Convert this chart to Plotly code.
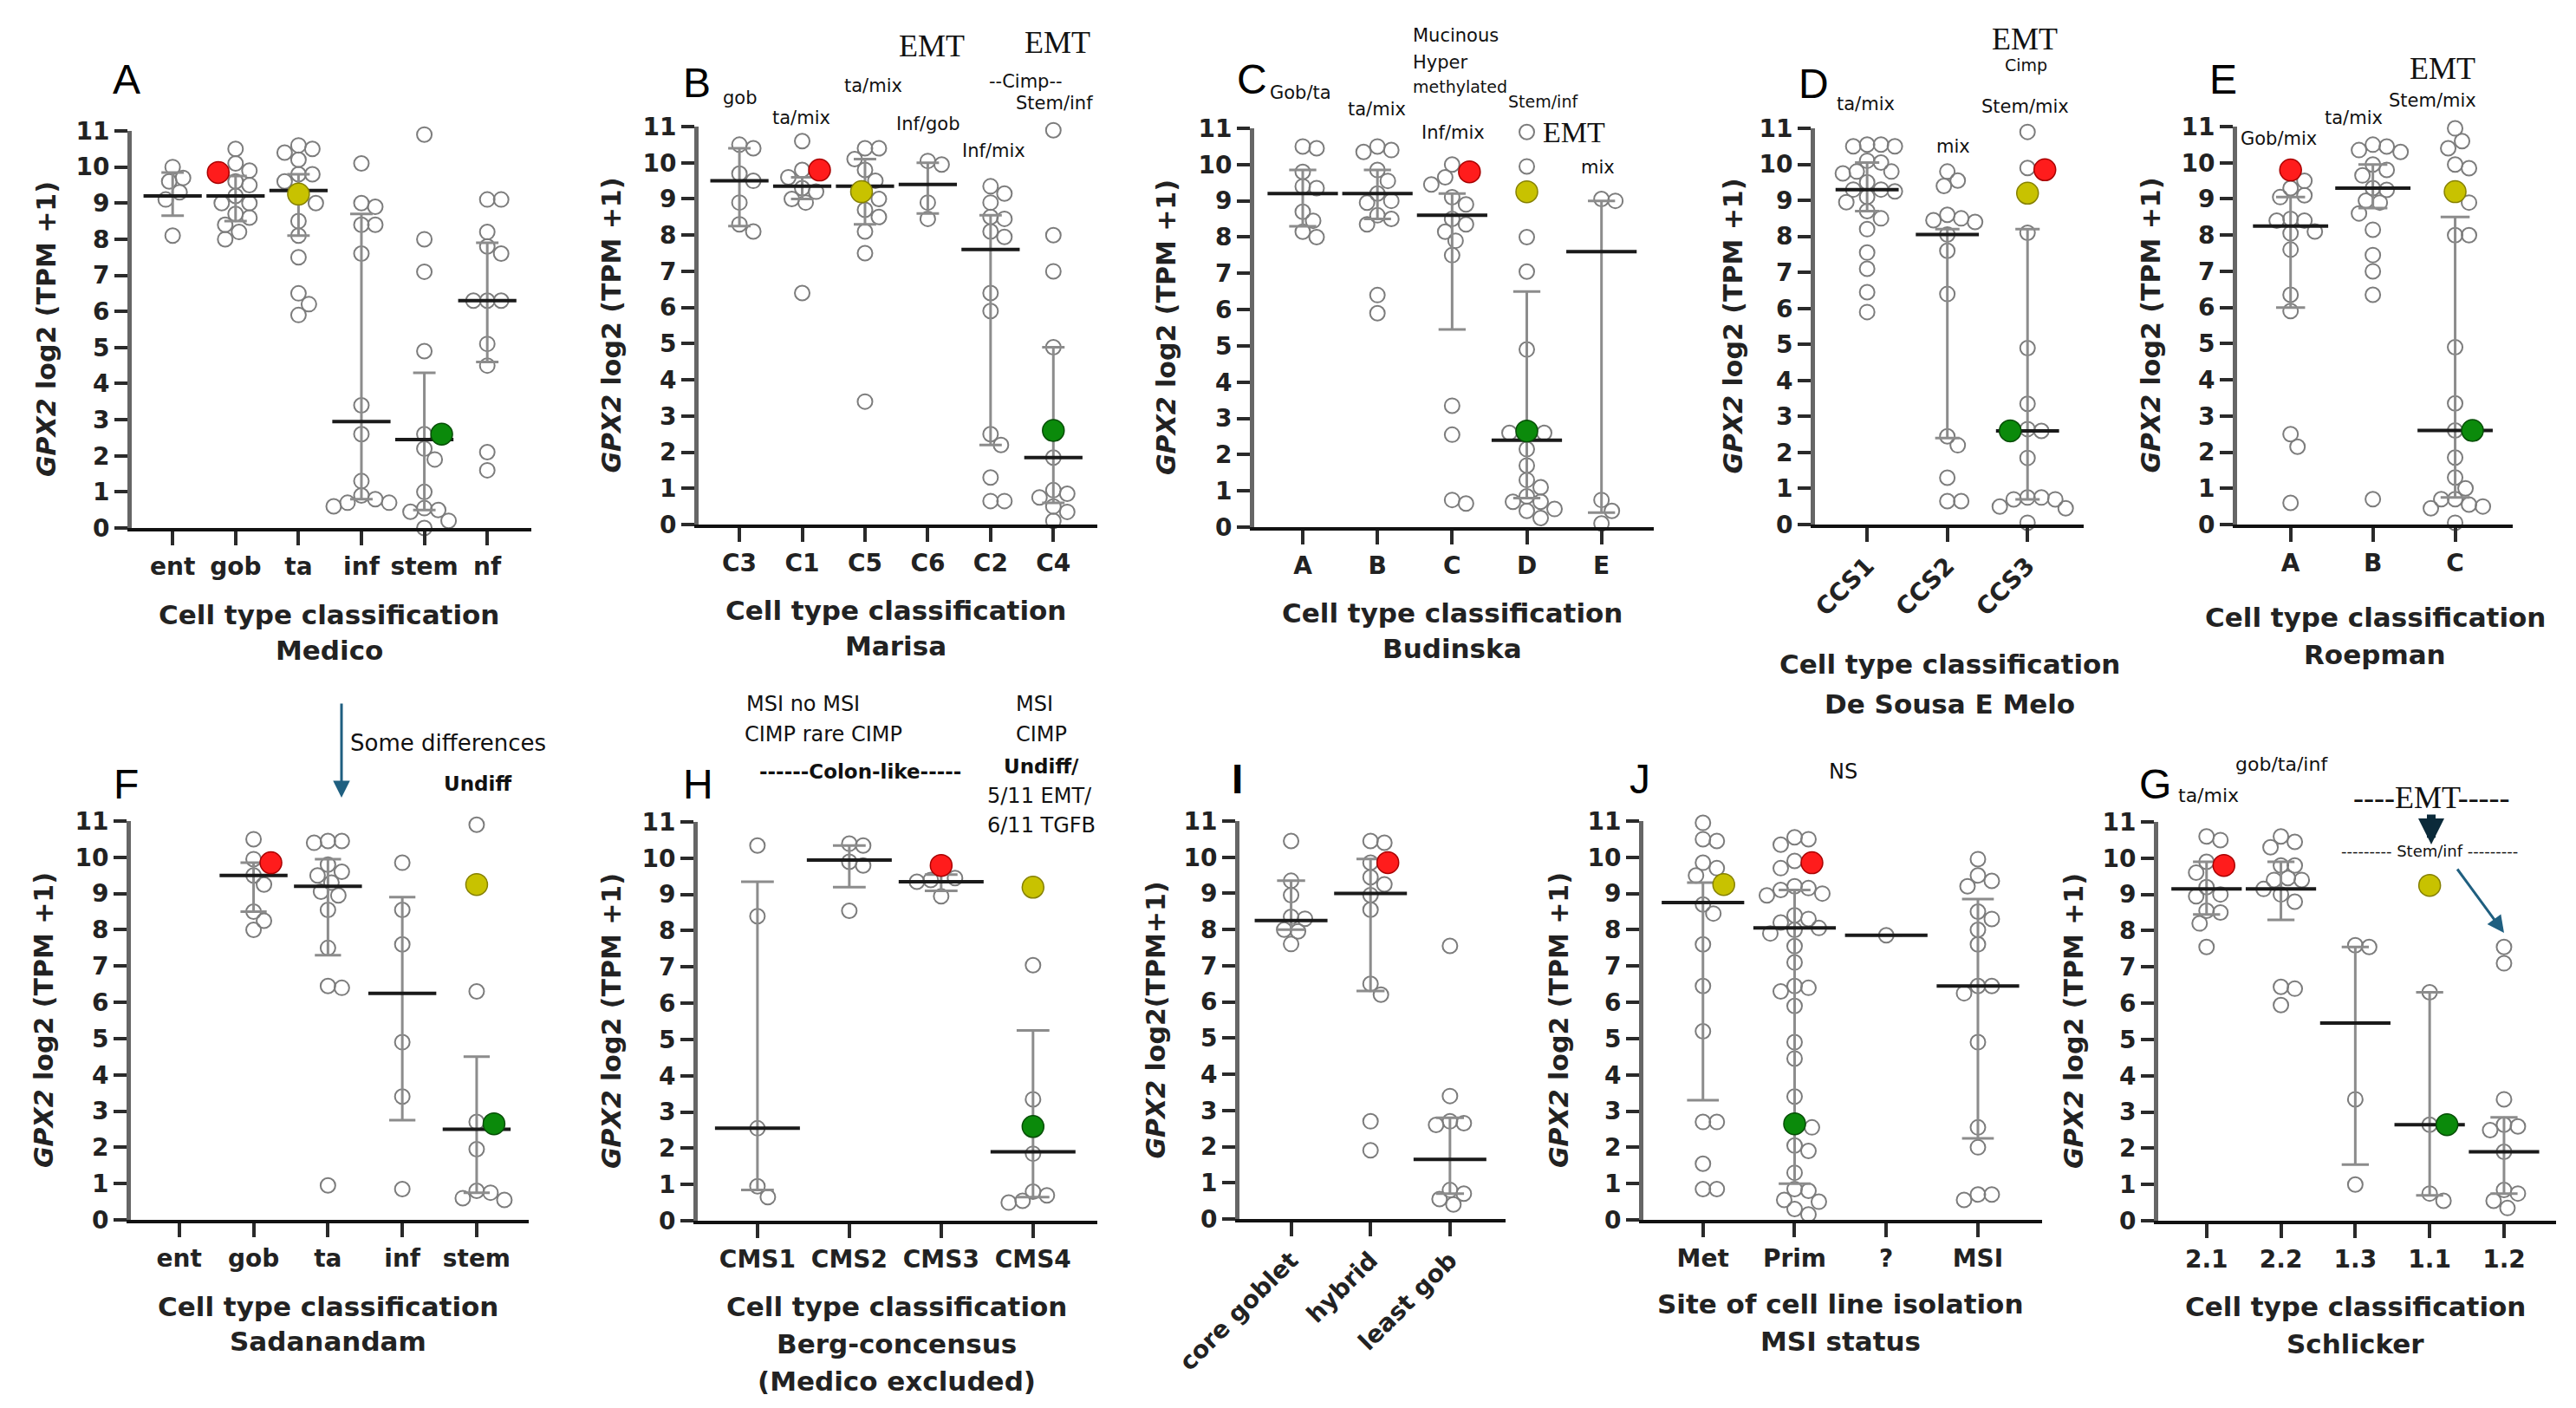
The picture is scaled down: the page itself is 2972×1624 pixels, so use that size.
import plotly.graph_objects as go

# GPX2 log2 (TPM +1) values per group
A_cats = ["ent", "gob", "ta", "inf", "stem", "nf"]
A_vals = [[10.0, 9.7, 9.6, 9.3, 9.1, 8.1],
          [10.5, 10.1, 9.9, 9.6, 9.5, 9.2, 9.0, 9.0, 8.7, 8.6, 8.4, 8.2, 8.0],
          [10.6, 10.5, 10.4, 10.2, 9.8, 9.8, 9.6, 9.0, 8.5, 8.1, 7.5, 6.5, 6.2, 5.9],
          [10.1, 9.0, 8.9, 8.4, 8.4, 7.6, 3.4, 2.6, 1.3, 0.9, 0.8, 0.7, 0.7, 0.6],
          [10.9, 8.0, 7.1, 4.9, 2.6, 2.2, 1.9, 1.0, 0.55, 0.5, 0.45, 0.2, 0.0],
          [9.1, 9.1, 8.2, 7.8, 7.6, 6.3, 6.3, 6.3, 5.1, 4.5, 2.1, 1.6]]
A_med = [9.2, 9.2, 9.35, 2.95, 2.45, 6.3]
A_q1 = [8.65, 8.5, 8.1, 0.8, 0.5, 4.6]
A_q3 = [9.85, 9.75, 9.8, 8.7, 4.3, 7.9]
A_hi = [("gob", 9.85, "red"), ("ta", 9.25, "yellow"), ("stem", 2.6, "green")]

B_cats = ["C3", "C1", "C5", "C6", "C2", "C4"]
B_vals = [[10.5, 10.4, 9.7, 9.5, 8.9, 8.3, 8.1],
          [10.6, 9.8, 9.6, 9.3, 9.2, 9.0, 8.9, 6.4],
          [10.4, 10.4, 10.1, 9.8, 9.5, 9.0, 8.7, 8.5, 8.1, 7.5, 3.4],
          [10.05, 9.95, 8.9, 8.45],
          [9.35, 9.15, 8.9, 8.5, 8.45, 8.1, 7.95, 6.4, 5.9, 2.5, 2.2, 1.3, 0.65, 0.65],
          [10.9, 8.0, 7.0, 4.9, 1.85, 0.95, 0.85, 0.75, 0.5, 0.35, 0.1]]
B_med = [9.5, 9.35, 9.35, 9.4, 7.6, 1.85]
B_q1 = [8.25, 9.0, 8.3, 8.6, 2.2, 0.6]
B_q3 = [10.4, 9.6, 10.1, 10.0, 8.55, 4.9]
B_hi = [("C1", 9.8, "red"), ("C5", 9.2, "yellow"), ("C4", 2.6, "green")]

C_cats = ["A", "B", "C", "D", "E"]
C_vals = [[10.5, 10.45, 9.8, 9.4, 9.35, 8.7, 8.45, 8.15, 8.0],
          [10.5, 10.4, 10.35, 9.85, 9.55, 9.2, 9.0, 8.95, 8.6, 8.5, 8.35, 6.4, 5.9],
          [10.0, 9.65, 9.45, 9.1, 8.9, 8.5, 8.35, 8.15, 7.9, 7.5, 3.35, 2.55, 0.75, 0.65],
          [10.9, 9.95, 8.0, 7.05, 4.9, 2.6, 2.6, 2.15, 1.7, 1.3, 1.1, 0.85, 0.7, 0.7, 0.5, 0.45, 0.25],
          [9.05, 9.0, 0.75, 0.45, 0.1]]
C_med = [9.2, 9.2, 8.6, 2.4, 7.6]
C_q1 = [8.3, 8.5, 5.45, 0.8, 0.4]
C_q3 = [9.85, 9.85, 9.2, 6.5, 9.0]
C_hi = [("C", 9.8, "red"), ("D", 9.25, "yellow"), ("D", 2.65, "green")]

D_cats = ["CCS1", "CCS2", "CCS3"]
D_vals = [[10.55, 10.5, 10.5, 10.55, 10.1, 10.05, 9.8, 9.75, 9.8, 9.5, 9.3, 9.3, 9.25, 9.1,
           8.95, 8.7, 8.5, 8.2, 7.55, 7.1, 6.45, 5.9],
          [9.8, 9.55, 9.4, 8.6, 8.5, 8.45, 8.4, 8.05, 7.6, 6.4, 2.45, 2.2, 1.3, 0.65, 0.65],
          [10.9, 9.9, 8.1, 4.9, 3.35, 2.65, 2.6, 1.85, 0.75, 0.7, 0.7, 0.75, 0.5, 0.45, 0.05]]
D_med = [9.3, 8.05, 2.6]
D_q1 = [8.7, 2.4, 0.7]
D_q3 = [10.05, 8.2, 8.2]
D_hi = [("CCS3", 9.85, "red"), ("CCS3", 9.2, "yellow"), ("CCS3", 2.6, "green")]

E_cats = ["A", "B", "C"]
E_vals = [[9.5, 9.3, 9.1, 9.05, 8.45, 8.4, 8.4, 8.1, 8.05, 7.6, 6.35, 5.9, 2.5, 2.15, 0.6],
          [10.5, 10.45, 10.35, 10.3, 9.95, 9.8, 9.65, 9.3, 9.25, 8.95, 8.9, 8.6, 8.15, 7.45,
           7.0, 6.35, 0.7],
          [10.95, 10.6, 10.4, 9.95, 9.85, 8.9, 8.0, 8.0, 4.9, 3.35, 2.6, 1.85, 1.3, 1.0, 0.7,
           0.7, 0.55, 0.5, 0.45, 0.05]]
E_med = [8.25, 9.3, 2.6]
E_q1 = [6.0, 8.75, 0.75]
E_q3 = [9.05, 9.95, 8.5]
E_hi = [("A", 9.8, "red"), ("C", 9.2, "yellow"), ("C", 2.6, "green")]

F_cats = ["ent", "gob", "ta", "inf", "stem"]
F_vals = [[],
          [10.5, 9.95, 9.5, 9.25, 8.5, 8.25, 8.0],
          [10.45, 10.45, 10.4, 9.8, 9.6, 9.5, 9.3, 9.05, 8.95, 8.55, 7.5, 6.45, 6.4, 0.95],
          [9.85, 8.55, 7.6, 4.9, 3.4, 0.85],
          [10.9, 6.3, 2.7, 1.95, 0.8, 0.75, 0.6, 0.55]]
F_med = [None, 9.5, 9.2, 6.25, 2.5]
F_q1 = [None, 8.5, 7.3, 2.75, 0.75]
F_q3 = [None, 9.85, 9.95, 8.9, 4.5]
F_hi = [("gob", 9.85, "red"), ("stem", 9.25, "yellow"), ("stem", 2.65, "green")]

H_cats = ["CMS1", "CMS2", "CMS3", "CMS4"]
H_vals = [[10.35, 8.4, 2.55, 0.95, 0.65],
          [10.4, 10.35, 9.9, 9.8, 8.55],
          [9.45, 9.4, 9.35, 8.95],
          [7.05, 3.35, 1.85, 0.8, 0.7, 0.55, 0.5]]
H_med = [2.55, 9.95, 9.35, 1.9]
H_q1 = [0.85, 9.2, 9.1, 0.65]
H_q3 = [9.35, 10.35, 9.55, 5.25]
H_hi = [("CMS3", 9.8, "red"), ("CMS4", 9.2, "yellow"), ("CMS4", 2.6, "green")]

I_cats = ["core goblet", "hybrid", "least gob"]
I_vals = [[10.45, 9.35, 8.95, 8.35, 8.3, 8.0, 7.95, 7.6],
          [10.45, 10.4, 9.85, 9.45, 9.25, 8.95, 8.55, 6.5, 6.2, 2.7, 1.9],
          [7.55, 3.4, 2.7, 2.65, 2.6, 0.8, 0.7, 0.55, 0.4]]
I_med = [8.25, 9.0, 1.65]
I_q1 = [8.0, 6.3, 0.7]
I_q3 = [9.35, 9.95, 2.8]
I_hi = [("hybrid", 9.85, "red")]

J_cats = ["Met", "Prim", "?", "MSI"]
J_vals = [[10.95, 10.5, 10.45, 9.85, 9.7, 9.5, 8.7, 8.45, 7.6, 6.45, 5.2, 2.7, 2.7, 1.55, 0.85, 0.85],
          [10.55, 10.5, 10.35, 9.9, 9.7, 9.2, 9.15, 9.1, 9.0, 8.95, 8.4, 8.3, 8.2, 8.05, 8.0,
           7.9, 7.55, 7.1, 6.45, 6.4, 6.3, 5.9, 4.9, 4.45, 3.4, 2.55, 2.05, 1.9, 1.3, 0.85,
           0.8, 0.55, 0.5, 0.3, 0.15],
          [7.85],
          [9.95, 9.5, 9.35, 9.2, 8.5, 8.3, 8.0, 7.6, 6.45, 6.45, 6.25, 4.9, 2.55, 2.0, 0.7, 0.7, 0.55]]
J_med = [8.75, 8.05, 7.85, 6.45]
J_q1 = [3.3, 1.0, 7.85, 2.25]
J_q3 = [9.3, 9.1, 7.85, 8.85]
J_hi = [("Met", 9.25, "yellow"), ("Prim", 9.85, "red"), ("Prim", 2.65, "green")]

G_cats = ["2.1", "2.2", "1.3", "1.1", "1.2"]
G_vals = [[10.6, 10.5, 9.9, 9.6, 9.2, 9.0, 8.95, 8.55, 8.5, 8.2, 7.55],
          [10.6, 10.45, 10.3, 9.8, 9.8, 9.45, 9.4, 9.4, 9.15, 9.0, 8.8, 6.45, 6.4, 5.95],
          [7.6, 7.55, 3.35, 1.0],
          [6.3, 2.65, 0.75, 0.55],
          [7.55, 7.1, 3.35, 2.65, 2.6, 2.5, 1.9, 0.85, 0.75, 0.55, 0.35]]
G_med = [9.15, 9.15, 5.45, 2.65, 1.9]
G_q1 = [8.45, 8.3, 1.55, 0.7, 0.75]
G_q3 = [9.9, 9.9, 7.55, 6.3, 2.85]
G_hi = [("2.1", 9.8, "red"), ("1.1", 9.25, "yellow"), ("1.1", 2.65, "green")]

DATA = {
    "A": (A_cats, A_vals, A_med, A_q1, A_q3, A_hi),
    "B": (B_cats, B_vals, B_med, B_q1, B_q3, B_hi),
    "C": (C_cats, C_vals, C_med, C_q1, C_q3, C_hi),
    "D": (D_cats, D_vals, D_med, D_q1, D_q3, D_hi),
    "E": (E_cats, E_vals, E_med, E_q1, E_q3, E_hi),
    "F": (F_cats, F_vals, F_med, F_q1, F_q3, F_hi),
    "H": (H_cats, H_vals, H_med, H_q1, H_q3, H_hi),
    "I": (I_cats, I_vals, I_med, I_q1, I_q3, I_hi),
    "J": (J_cats, J_vals, J_med, J_q1, J_q3, J_hi),
    "G": (G_cats, G_vals, G_med, G_q1, G_q3, G_hi),
}

# ---- page geometry (pixels): x0, x1, ytop, ybot, median width, tick angle ----
W, H = 2972, 1624
GEO = {
    "A": (144, 605, 143, 601, 48, 0),
    "B": (798, 1258, 138, 597, 48, 0),
    "C": (1439, 1900, 140, 600, 58, 0),
    "D": (2086, 2396, 140, 597, 52, -45),
    "E": (2573, 2891, 138, 597, 62, 0),
    "F": (143, 602, 939, 1399, 56, 0),
    "H": (797, 1258, 940, 1400, 70, 0),
    "I": (1422, 1729, 939, 1398, 60, -45),
    "J": (1888, 2348, 939, 1399, 68, 0),
    "G": (2482, 2941, 940, 1400, 58, 0),
}
XTITLE = {
    "A": (372, [701, 742], ["Cell type classification", "Medico"]),
    "B": (1025, [696, 737], ["Cell type classification", "Marisa"]),
    "C": (1667, [699, 740], ["Cell type classification", "Budinska"]),
    "D": (2241, [758, 804], ["Cell type classification", "De Sousa E Melo"]),
    "E": (2732, [704, 747], ["Cell type classification", "Roepman"]),
    "F": (370, [1499, 1539], ["Cell type classification", "Sadanandam"]),
    "H": (1026, [1499, 1542, 1585], ["Cell type classification", "Berg-concensus", "(Medico excluded)"]),
    "J": (2115, [1496, 1539], ["Site of cell line isolation", "MSI status"]),
    "G": (2709, [1499, 1542], ["Cell type classification", "Schlicker"]),
}
YTITLE_X = {"A": 45, "B": 697, "C": 1338, "D": 1991, "E": 2473,
            "F": 42, "H": 697, "I": 1325, "J": 1790, "G": 2384}
LETTER = {"A": (138, 84), "B": (796, 87), "C": (1436, 84), "D": (2084, 88), "E": (2557, 84),
          "F": (137, 896), "H": (797, 896), "I": (1419, 890), "J": (1884, 890), "G": (2478, 896)}

HI_STYLE = {"red": ("#ff1c1c", "#a80000"), "yellow": ("#c8c200", "#858000"),
            "green": ("#0b8a0b", "#064d06")}

SANS = "DejaVu Sans"


def fx(p):
    return p / W


def fy(p):
    return 1 - p / H


def swarm(vals, diam, ppx, ppy):
    placed = []
    offs = [0.0] * len(vals)
    order = sorted(range(len(vals)), key=lambda k: -vals[k])
    for k in order:
        yk = vals[k] * ppy
        rk = diam[k] / 2
        c = 0.0
        for j in range(400):
            c = ((j + 1) // 2) * 4.0 * (1 if j % 2 else -1)
            if all((c - px) ** 2 + (yk - py) ** 2 >= (0.92 * (rk + pr)) ** 2 for px, py, pr in placed):
                break
        placed.append((c, yk, rk))
        offs[k] = c / ppx
    return offs


fig = go.Figure()
layout = {}
annotations = []

for i, key in enumerate(DATA, 1):
    cats, vals, med, q1, q3, hi = DATA[key]
    x0, x1, yt, yb, medw, tang = GEO[key]
    n = len(cats)
    xr = [-0.65, n - 0.3]
    ppx = (x1 - x0) / (xr[1] - xr[0])
    ppy = (yb - yt) / 11.0
    xa = "x" if i == 1 else "x%d" % i
    ya = "y" if i == 1 else "y%d" % i

    ox, oy, hx, hy, hc, hl = [], [], [], [], [], []
    for ci, cat in enumerate(cats):
        pts = [(v, None) for v in vals[ci]] + [(v, c) for (cc, v, c) in hi if cc == cat]
        if not pts:
            continue
        pv = [p[0] for p in pts]
        offs = swarm(pv, [17 if p[1] is None else 25 for p in pts], ppx, ppy)
        for (v, c), o in zip(pts, offs):
            if c is None:
                ox.append(ci + o)
                oy.append(v)
            else:
                hx.append(ci + o)
                hy.append(v)
                hc.append(HI_STYLE[c][0])
                hl.append(HI_STYLE[c][1])

    fig.add_trace(go.Scatter(
        x=ox, y=oy, mode="markers", xaxis=xa, yaxis=ya, showlegend=False, cliponaxis=False,
        marker=dict(symbol="circle-open", size=17, color="#7c7c7c", line=dict(width=2))))

    mx = [ci for ci in range(n) if med[ci] is not None]
    fig.add_trace(go.Scatter(
        x=mx, y=[med[ci] for ci in mx], mode="markers", xaxis=xa, yaxis=ya,
        showlegend=False, cliponaxis=False,
        marker=dict(symbol="line-ew", size=medw, line=dict(width=4, color="#1a1a1a")),
        error_y=dict(type="data", symmetric=False,
                     array=[q3[ci] - med[ci] for ci in mx],
                     arrayminus=[med[ci] - q1[ci] for ci in mx],
                     color="#8c8c8c", thickness=3, width=medw * 0.27)))

    if hx:
        fig.add_trace(go.Scatter(
            x=hx, y=hy, mode="markers", xaxis=xa, yaxis=ya, showlegend=False, cliponaxis=False,
            marker=dict(symbol="circle", size=25, color=hc, line=dict(width=1.5, color=hl))))

    lname = "xaxis" if i == 1 else "xaxis%d" % i
    yname = "yaxis" if i == 1 else "yaxis%d" % i
    layout[lname] = dict(
        domain=[fx(x0), fx(x1)], anchor=ya, range=xr, automargin=False,
        tickmode="array", tickvals=list(range(n)), ticktext=cats, tickangle=tang,
        ticks="outside", ticklen=16, tickwidth=4, tickcolor="#2a2a2a",
        showline=True, linewidth=4, linecolor="#111111", showgrid=False, zeroline=False,
        tickfont=dict(family=SANS, size=28, color="#222222", weight="bold"))
    layout[yname] = dict(
        domain=[fy(yb), fy(yt)], anchor=xa, range=[0, 11], automargin=False,
        tickmode="array", tickvals=list(range(12)),
        ticks="outside", ticklen=15, tickwidth=4, tickcolor="#2a2a2a",
        showline=True, linewidth=5, linecolor="#666666", showgrid=False, zeroline=False,
        tickfont=dict(family=SANS, size=28, color="#222222", weight="bold"))

    # y title
    ytxt = "<i>GPX2</i> log2(TPM+1)" if key == "I" else "<i>GPX2</i> log2 (TPM +1)"
    annotations.append(dict(
        x=fx(YTITLE_X[key]), y=fy((yt + yb) / 2), xref="paper", yref="paper",
        text=ytxt, textangle=-90, showarrow=False, xanchor="center", yanchor="middle",
        font=dict(family=SANS, size=30, color="#222222", weight="bold")))
    # x titles
    if key in XTITLE:
        cx, lys, lines = XTITLE[key]
        for ly, t in zip(lys, lines):
            annotations.append(dict(
                x=fx(cx), y=fy(ly), xref="paper", yref="paper", text=t, showarrow=False,
                xanchor="center", yanchor="middle",
                font=dict(family=SANS, size=31, color="#222222", weight="bold")))
    # panel letter
    lx, ly = LETTER[key]
    annotations.append(dict(
        x=fx(lx), y=fy(ly), xref="paper", yref="paper", text=key, showarrow=False,
        xanchor="center", yanchor="middle",
        font=dict(family="Liberation Sans", size=48, color="black",
                  weight="bold" if key == "I" else "normal")))

# free text notes: text, x, y, size, family, bold, anchor
NOTES = [
    ("gob", 846, 105, 21, SANS, False, "center"),
    ("ta/mix", 916, 128, 21, SANS, False, "center"),
    ("ta/mix", 1000, 91, 21, SANS, False, "center"),
    ("EMT", 1067, 45, 36, "Liberation Serif", False, "center"),
    ("Inf/gob", 1062, 135, 21, SANS, False, "center"),
    ("EMT", 1212, 41, 36, "Liberation Serif", False, "center"),
    ("--Cimp--", 1175, 86, 21, SANS, False, "center"),
    ("Stem/inf", 1208, 111, 21, SANS, False, "center"),
    ("Inf/mix", 1138, 166, 21, SANS, False, "center"),
    ("Gob/ta", 1493, 99, 21, SANS, False, "center"),
    ("ta/mix", 1580, 118, 21, SANS, False, "center"),
    ("Mucinous", 1620, 33, 21, SANS, False, "left"),
    ("Hyper", 1620, 64, 21, SANS, False, "left"),
    ("methylated", 1620, 92, 19, SANS, False, "left"),
    ("Stem/inf", 1772, 109, 19, SANS, False, "center"),
    ("Inf/mix", 1669, 145, 21, SANS, False, "center"),
    ("EMT", 1808, 144, 34, "Liberation Serif", False, "center"),
    ("mix", 1835, 185, 21, SANS, False, "center"),
    ("ta/mix", 2144, 112, 21, SANS, False, "center"),
    ("mix", 2245, 161, 21, SANS, False, "center"),
    ("EMT", 2328, 37, 36, "Liberation Serif", False, "center"),
    ("Cimp", 2329, 67, 19, SANS, False, "center"),
    ("Stem/mix", 2328, 115, 21, SANS, False, "center"),
    ("Gob/mix", 2621, 152, 21, SANS, False, "center"),
    ("ta/mix", 2707, 128, 21, SANS, False, "center"),
    ("EMT", 2810, 71, 36, "Liberation Serif", False, "center"),
    ("Stem/mix", 2798, 108, 21, SANS, False, "center"),
    ("Some differences", 394, 849, 26, SANS, False, "left"),
    ("Undiff", 543, 896, 23, SANS, True, "center"),
    ("MSI no MSI", 918, 804, 24, SANS, False, "center"),
    ("CIMP rare CIMP", 942, 839, 24, SANS, False, "center"),
    ("------Colon-like-----", 985, 882, 23, SANS, True, "center"),
    ("MSI", 1185, 804, 24, SANS, False, "center"),
    ("CIMP", 1193, 839, 24, SANS, False, "center"),
    ("Undiff/", 1193, 876, 23, SANS, True, "center"),
    ("5/11 EMT/", 1191, 910, 24, SANS, False, "center"),
    ("6/11 TGFB", 1193, 944, 24, SANS, False, "center"),
    ("NS", 2118, 882, 24, SANS, False, "center"),
    ("ta/mix", 2540, 909, 22, SANS, False, "center"),
    ("gob/ta/inf", 2624, 873, 22, SANS, False, "center"),
    ("----EMT-----", 2797, 912, 36, "Liberation Serif", False, "center"),
    ("--------- Stem/inf ---------", 2795, 973, 18, SANS, False, "center"),
]
for t, x, y, s, fam, b, anc in NOTES:
    annotations.append(dict(
        x=fx(x), y=fy(y), xref="paper", yref="paper", text=t, showarrow=False,
        xanchor=anc, yanchor="middle",
        font=dict(family=fam, size=s, color="#111111", weight="bold" if b else "normal")))

# arrows: head x, head y, tail offset, colour, width
ARROWS = [
    (386, 912, 0, -110, "#1f5f80", 3, 1.3),
    (2797, 966, 0, -36, "#0b2a3a", 10, 0.6),
    (2881, 1068, -55, -75, "#1f5f80", 3, 1.3),
]
for x, y, ax, ay, col, w, sz in ARROWS:
    annotations.append(dict(
        x=fx(x), y=fy(y), xref="paper", yref="paper", ax=ax, ay=ay, text="",
        showarrow=True, arrowhead=2, arrowsize=sz, arrowwidth=w, arrowcolor=col))

fig.update_layout(
    width=W, height=H, margin=dict(l=0, r=0, t=0, b=0, pad=0, autoexpand=False),
    paper_bgcolor="white", plot_bgcolor="rgba(0,0,0,0)",
    annotations=annotations, **layout)

fig.write_html("out.html")
